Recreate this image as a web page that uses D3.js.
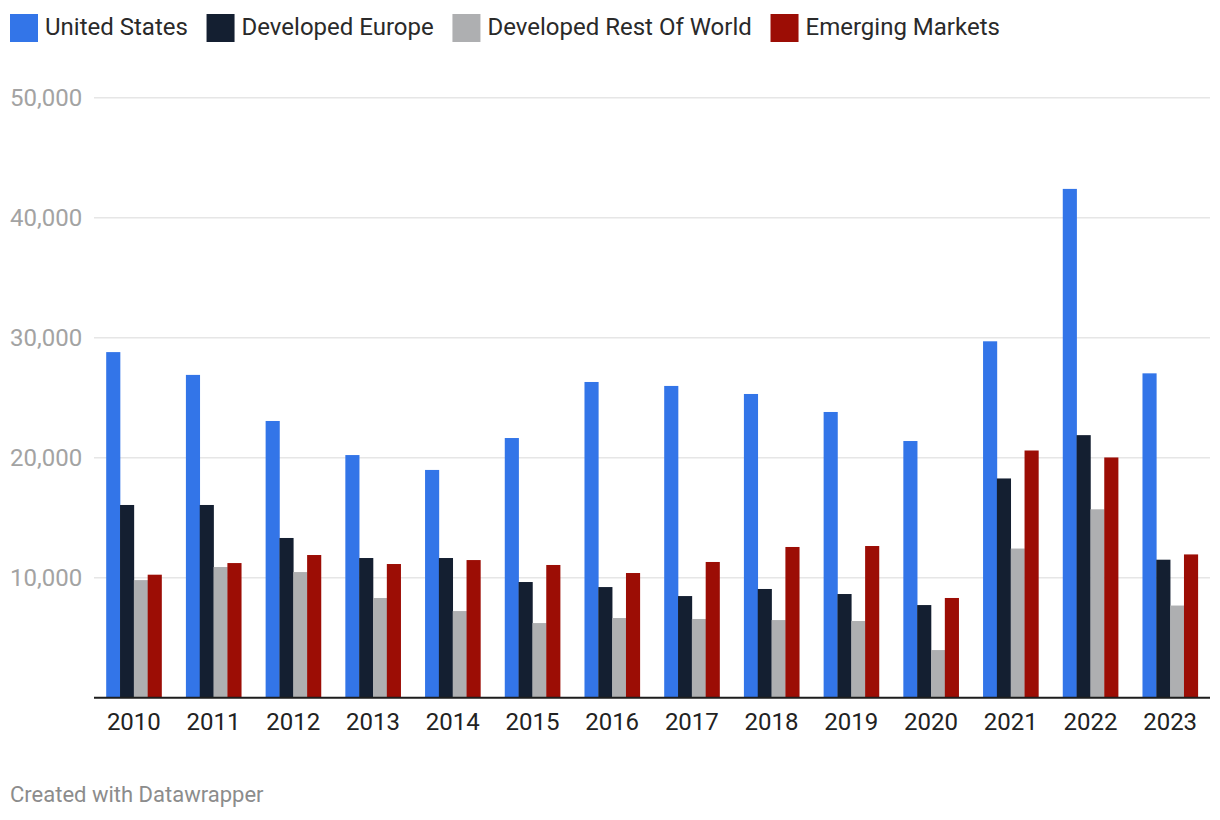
<!DOCTYPE html>
<html>
<head>
<meta charset="utf-8">
<script src="https://cdn.jsdelivr.net/npm/d3@7"></script>
<style>
  html, body { margin: 0; padding: 0; background: #fff; }
  svg { display: block; font-family: Roboto, "Noto Sans", sans-serif; }
</style>
</head>
<body>
<svg id="chart" width="1220" height="820"></svg>
<script>
const years = ["2010","2011","2012","2013","2014","2015","2016","2017","2018","2019","2020","2021","2022","2023"];
const seriesNames = ["United States", "Developed Europe", "Developed Rest Of World", "Emerging Markets"];
const seriesColors = ["#3375e8", "#141f31", "#aeafb1", "#9c0d05"];
const unitedStates   = [28800, 26900, 23060, 20220, 18980, 21640, 26310, 25980, 25310, 23810, 21390, 29700, 42400, 27030];
const developedEurope = [16060, 16060, 13310, 11640, 11640, 9640, 9220, 8470, 9060, 8640, 7720, 18270, 21880, 11500];
const developedRoW   = [9800, 10890, 10470, 8310, 7220, 6220, 6640, 6560, 6470, 6390, 3970, 12430, 15700, 7680];
const emergingMarkets = [10250, 11220, 11890, 11140, 11470, 11060, 10390, 11310, 12560, 12640, 8310, 20600, 20020, 11940];
const yTicks = [10000, 20000, 30000, 40000, 50000];
const footerText = "Created with Datawrapper";

const seriesValues = [unitedStates, developedEurope, developedRoW, emergingMarkets];

const svg = d3.select("#chart");
const plotLeft = 94, plotRight = 1210, plotTop = 97.7, plotBottom = 697.7;

const x0 = d3.scaleBand().domain(years).range([plotLeft, plotRight]).paddingInner(0.306).paddingOuter(0.153);
const x1 = d3.scaleBand().domain(seriesNames).range([0, x0.bandwidth()]).padding(0);
const y = d3.scaleLinear().domain([0, 50000]).range([plotBottom, plotTop]);

// gridlines
svg.append("g").selectAll("line").data(yTicks).join("line")
  .attr("x1", plotLeft).attr("x2", plotRight)
  .attr("y1", d => y(d)).attr("y2", d => y(d))
  .attr("stroke", "#e6e6e6").attr("stroke-width", 1.6);

// y labels
svg.append("g").selectAll("text").data(yTicks).join("text")
  .attr("x", 10).attr("y", d => y(d))
  .attr("dy", "0.35em")
  .attr("fill", "#a3a3a3")
  .attr("font-size", 24)
  .text(d => d3.format(",")(d));

// bars
const groups = svg.append("g").selectAll("g").data(years).join("g")
  .attr("transform", d => `translate(${x0(d)},0)`);
groups.selectAll("rect")
  .data((d, i) => seriesNames.map((s, j) => ({ s, j, v: seriesValues[j][i] })))
  .join("rect")
  .attr("x", d => x1(d.s))
  .attr("width", x1.bandwidth() + 0.3)
  .attr("y", d => y(d.v))
  .attr("height", d => y(0) - y(d.v))
  .attr("fill", d => seriesColors[d.j]);

// baseline axis
svg.append("line")
  .attr("x1", plotLeft).attr("x2", plotRight)
  .attr("y1", y(0)).attr("y2", y(0))
  .attr("stroke", "#1d1d1d").attr("stroke-width", 2);

// x labels
svg.append("g").selectAll("text").data(years).join("text")
  .attr("x", d => x0(d) + x0.bandwidth() / 2)
  .attr("y", 730)
  .attr("text-anchor", "middle")
  .attr("fill", "#222")
  .attr("font-size", 24)
  .text(d => d);

// legend
const legend = svg.append("g");
let lx = 10;
seriesNames.forEach((name, i) => {
  legend.append("rect").attr("x", lx).attr("y", 14).attr("width", 28).attr("height", 28).attr("fill", seriesColors[i]);
  const t = legend.append("text").attr("x", lx + 35).attr("y", 34.5).attr("fill", "#2a2a2a").attr("font-size", 24).text(name);
  const w = t.node().getComputedTextLength();
  lx = lx + 35 + w + 18.7;
});

// footer
svg.append("text").attr("x", 10).attr("y", 802).attr("fill", "#8c8c8c").attr("font-size", 22).text(footerText);
</script>
</body>
</html>
